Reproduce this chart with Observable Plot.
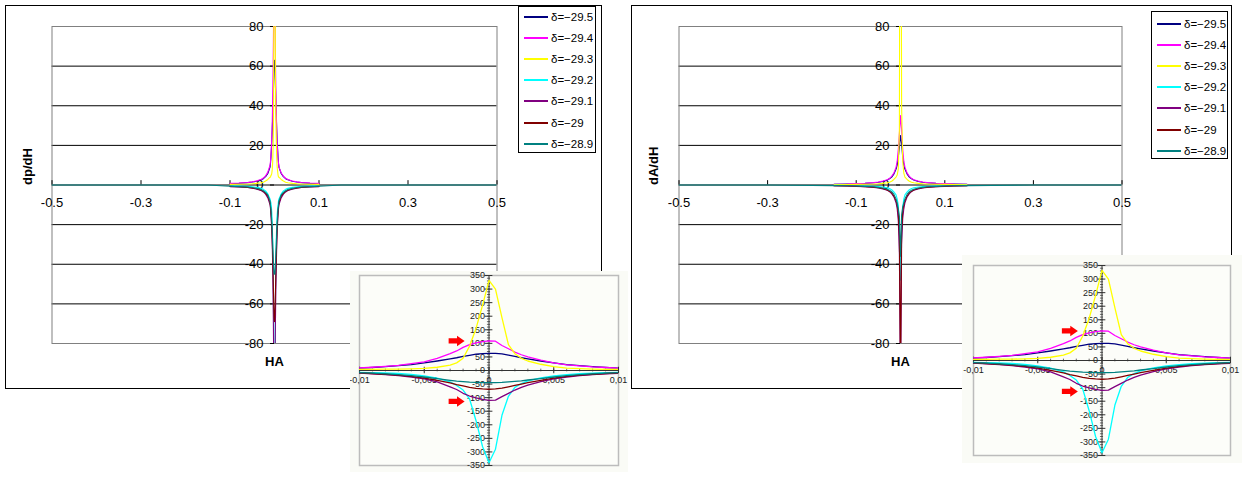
<!DOCTYPE html>
<html><head><meta charset="utf-8">
<script src="https://cdn.jsdelivr.net/npm/d3@7"></script>
<script src="https://cdn.jsdelivr.net/npm/@observablehq/plot@0.6"></script>
<style>
body{margin:0;background:#fff;font-family:"Liberation Sans",Arial,sans-serif;}
#page{position:relative;width:1246px;height:482px;overflow:hidden;background:#fff;}
.abs{position:absolute;}
.frame{position:absolute;border:1px solid #000;box-sizing:border-box;pointer-events:none;}
.legend{position:absolute;border:1px solid #000;background:#fff;box-sizing:border-box;font-size:11.5px;color:#000;}
.legend .row{position:absolute;left:0;height:16px;display:flex;align-items:center;white-space:nowrap;}
.legend .sw{width:24px;height:2px;margin-left:5px;margin-right:3px;flex:none;}
.inset{position:absolute;background:#fafbf6;overflow:hidden;}
</style></head>
<body><div id="page"></div>
<script>
// ---------- data ----------
const seriesNames = ["δ=\u221229.5","δ=\u221229.4","δ=\u221229.3","δ=\u221229.2","δ=\u221229.1","δ=\u221229","δ=\u221228.9"];
const seriesColors = ["#000080","#ff00ff","#ffff00","#00ffff","#800080","#800000","#008080"];

// HA grid for dp/dH (also shown in the insets)
const HA_dp = [-0.5,-0.3,-0.15,-0.1,-0.08,-0.06,-0.05,-0.04,-0.03,-0.025,-0.02,-0.015,
  -0.01,-0.009,-0.008,-0.007,-0.006,-0.005,-0.004,-0.003,-0.0025,-0.002,-0.0015,-0.001,-0.0005,
  0,0.0005,0.001,0.0015,0.002,0.0025,0.003,0.004,0.005,0.006,0.007,0.008,0.009,0.01,
  0.015,0.02,0.025,0.03,0.04,0.05,0.06,0.08,0.1,0.15,0.3,0.5];
const dp_m295 = [null,null,null,0.7,0.9,1.2,1.5,1.9,2.6,3.2,4.2,5.8,
  9,11,14,18,22,28,35,43,47,52,56,60,62,63,63,61,57,52,47,43,35,28,22,18,14,11,9,
  5.8,4.2,3.2,2.6,1.9,1.5,1.2,0.9,0.7,null,null,null];
const dp_m294 = [null,null,null,0.8,1.0,1.3,1.6,2.1,2.8,3.5,4.6,6.5,
  10,12,15,19,25,32,45,62,72,85,95,102,106,109,108,92,80,68,58,50,38,28,21,17,13,11,9,
  6.2,4.4,3.4,2.8,2.0,1.6,1.3,1.0,0.8,null,null,null];
const dp_m293 = [null,null,null,0.3,0.4,0.5,0.6,0.8,1.1,1.4,2.0,2.8,
  4,4,5,5,6,8,12,20,28,45,90,155,240,332,300,195,95,62,45,35,23,14,9,7,5,4,4,
  2.8,2.0,1.4,1.1,0.8,0.6,0.5,0.4,0.3,null,null,null];
const dp_m292 = [null,null,null,-0.4,-0.5,-0.7,-0.9,-1.2,-1.7,-2.2,-3.0,-4.5,
  -7,-8,-9,-11,-14,-20,-28,-42,-55,-72,-105,-185,-280,-340,-290,-165,-95,-62,-48,-38,-27,-20,-15,-12,-10,-8,-7,
  -4.5,-3.0,-2.2,-1.7,-1.2,-0.9,-0.7,-0.5,-0.4,null,null,null];
const dp_m291 = [null,null,null,-0.8,-1.0,-1.3,-1.6,-2.1,-2.8,-3.5,-4.6,-6.5,
  -10,-12,-15,-19,-24,-31,-42,-60,-70,-84,-94,-101,-106,-110,-109,-96,-84,-72,-62,-54,-41,-31,-24,-19,-15,-12,-10,
  -6.5,-4.6,-3.5,-2.8,-2.1,-1.6,-1.3,-1.0,-0.8,null,null,null];
const dp_m290 = [null,null,null,-0.7,-0.9,-1.2,-1.5,-1.9,-2.6,-3.2,-4.2,-5.6,
  -9,-11,-14,-17,-22,-28,-36,-46,-52,-57,-62,-66,-68,-69,-68,-65,-60,-55,-50,-45,-36,-28,-22,-17,-14,-11,-9,
  -5.6,-4.2,-3.2,-2.6,-1.9,-1.5,-1.2,-0.9,-0.7,null,null,null];
const dp_m289 = [0,0,0,-0.6,-0.8,-1.0,-1.3,-1.7,-2.3,-2.9,-3.7,-5.0,
  -8,-10,-12,-15,-19,-24,-30,-36,-39,-41,-43,-44,-45,-45,-45,-44,-42,-40,-38,-35,-30,-24,-19,-15,-12,-10,-8,
  -5.0,-3.7,-2.9,-2.3,-1.7,-1.3,-1.0,-0.8,-0.6,0,0,0];

// HA grid for dA/dH
const HA_dA = [-0.5,-0.3,-0.15,-0.12,-0.1,-0.08,-0.06,-0.05,-0.04,-0.03,-0.025,-0.02,-0.015,-0.01,-0.0075,-0.005,-0.0025,
  0,0.0025,0.005,0.0075,0.01,0.015,0.02,0.025,0.03,0.04,0.05,0.06,0.08,0.1,0.12,0.15,0.3,0.5];
const dA_m295 = [null,null,0.4,0.5,0.6,0.8,1.1,1.4,1.8,2.5,3.1,4.0,5.5,8,10,14,19,25,21,14,10,8,5.5,4.0,3.1,2.5,1.8,1.4,1.1,0.8,0.6,0.5,0.4,null,null];
const dA_m294 = [null,null,0.4,0.5,0.7,0.9,1.2,1.5,2.0,2.7,3.3,4.4,6.0,9,12,18,26,35,28,18,12,9,6.0,4.4,3.3,2.7,2.0,1.5,1.2,0.9,0.7,0.5,0.4,null,null];
const dA_m293 = [null,null,0.2,0.2,0.3,0.4,0.5,0.6,0.8,1.1,1.4,1.9,2.8,4,5,8,28,330,40,12,6,4,2.8,1.9,1.4,1.1,0.8,0.6,0.5,0.4,0.3,0.2,0.2,null,null];
const dA_m292 = [null,null,-0.2,-0.3,-0.4,-0.5,-0.6,-0.8,-1.0,-1.4,-1.8,-2.4,-3.5,-5,-7,-10,-22,-48,-25,-11,-7,-5,-3.5,-2.4,-1.8,-1.4,-1.0,-0.8,-0.6,-0.5,-0.4,-0.3,-0.2,null,null];
const dA_m291 = [null,null,-0.4,-0.5,-0.7,-0.9,-1.2,-1.5,-2.0,-2.7,-3.3,-4.4,-6.0,-9,-12,-18,-35,-110,-30,-17,-12,-9,-6.0,-4.4,-3.3,-2.7,-2.0,-1.5,-1.2,-0.9,-0.7,-0.5,-0.4,null,null];
const dA_m290 = [null,null,-0.4,-0.5,-0.6,-0.8,-1.1,-1.4,-1.8,-2.5,-3.1,-4.0,-5.5,-8,-10,-14,-26,-95,-24,-13,-10,-8,-5.5,-4.0,-3.1,-2.5,-1.8,-1.4,-1.1,-0.8,-0.6,-0.5,-0.4,null,null];
const dA_m289 = [0,0,-0.3,-0.4,-0.5,-0.7,-0.9,-1.2,-1.5,-2.1,-2.6,-3.4,-4.6,-7,-9,-12,-16,-36,-15,-11,-9,-7,-4.6,-3.4,-2.6,-2.1,-1.5,-1.2,-0.9,-0.7,-0.5,-0.4,-0.3,0,0];

// axis ticks
const mainXTicks = [-0.5,-0.3,-0.1,0.1,0.3,0.5];
const mainXLabels = ["-0.5","-0.3","-0.1","0.1","0.3","0.5"];
const mainYTicks = [80,60,40,20,0,-20,-40,-60,-80];
const mainYGrid = [60,40,20,0,-20,-40,-60];
const insetXTicks = [-0.01,-0.005,0,0.005,0.01];
const insetXLabels = ["-0,01","-0,005","0","0,005","0,01"];
const insetYTicks = [350,300,250,200,150,100,50,0,-50,-100,-150,-200,-250,-300,-350];
const arrowPts = [{x:-0.0025, y:109},{x:-0.0025, y:-114}];

// ---------- helpers ----------
function toRows(xs, list){
  const out=[];
  list.forEach((ys,k)=>ys.forEach((y,i)=>{ if(y!=null) out.push({x:xs[i], y, s:seriesNames[k]}); }));
  return out;
}
const rowsDp = toRows(HA_dp,[dp_m295,dp_m294,dp_m293,dp_m292,dp_m291,dp_m290,dp_m289]);
const rowsDA = toRows(HA_dA,[dA_m295,dA_m294,dA_m293,dA_m292,dA_m291,dA_m290,dA_m289]);
const FONT = "'Liberation Sans', Arial, sans-serif";
const page = document.getElementById("page");

function place(el, left, top, cls){
  const w = document.createElement("div");
  w.className = cls || "abs";
  w.style.left = left+"px"; w.style.top = top+"px";
  if (el) w.appendChild(el);
  page.appendChild(w);
  return w;
}

function mainChart(rows, ylab, W, mL, mR, ylabDx){
  return Plot.plot({
    width: W, height: 383, marginLeft: mL, marginRight: mR, marginTop: 21, marginBottom: 45,
    x: {domain: [-0.5,0.5], axis: null},
    y: {domain: [-80,80], axis: null},
    color: {domain: seriesNames, range: seriesColors},
    style: {fontFamily: FONT, background: "none", color: "#000", overflow: "visible"},
    marks: [
      Plot.ruleY(mainYGrid, {y: d=>d, stroke: "#000", strokeWidth: 1}),
      Plot.frame({stroke: "#808080"}),
      Plot.ruleX(mainXTicks, {x: d=>d, y1: 0, y2: 2.2, stroke: "#000"}),
      Plot.ruleY(mainYTicks, {y: d=>d, x1: -0.009, x2: 0, stroke: "#000"}),
      Plot.text(mainYTicks, {x: 0, y: d=>d, dx: -11, textAnchor: "end", text: d=>String(d), fontSize: 13, fill: "#000"}),
      Plot.text(mainXTicks, {x: d=>d, y: 0, dy: 18, text: (d,i)=>mainXLabels[i], fontSize: 13, fill: "#000"}),
      Plot.line(rows, {x: "x", y: "y", z: "s", stroke: "s", strokeWidth: 1.1, clip: true}),
      Plot.text([ylab], {frameAnchor: "left", dx: ylabDx, rotate: -90, text: d=>d, fontWeight: "bold", fontSize: 13, fill: "#000"}),
      Plot.text(["HA"], {frameAnchor: "bottom", dy: 22, text: d=>d, fontWeight: "bold", fontSize: 13, fill: "#000"})
    ]
  });
}

const arrowSymbol = {draw(ctx, size){
  const r = Math.sqrt(size/Math.PI), sh = 0.33*r, hh = 0.66*r, hx = 0.05*r;
  ctx.moveTo(-r,-sh); ctx.lineTo(hx,-sh); ctx.lineTo(hx,-hh); ctx.lineTo(r,0);
  ctx.lineTo(hx,hh); ctx.lineTo(hx,sh); ctx.lineTo(-r,sh); ctx.closePath();
}};

function insetChart(W, H, mL, mR, mT, mB){
  return Plot.plot({
    width: W, height: H, marginLeft: mL, marginRight: mR, marginTop: mT, marginBottom: mB,
    x: {domain: [-0.01,0.01], axis: null},
    y: {domain: [-350,350], axis: null},
    color: {domain: seriesNames, range: seriesColors},
    style: {fontFamily: FONT, background: "#fafbf6", color: "#222", overflow: "hidden"},
    marks: [
      Plot.frame({fill: "#fcfdf9", stroke: "#bcbcbc", strokeWidth: 1.5}),
      Plot.ruleY(d3.range(-350, 351, 10), {y: d=>d, x1: -0.00012, x2: 0.00012, stroke: "#444", strokeWidth: 0.8}),
      Plot.ruleY(insetYTicks, {y: d=>d, x1: -0.0003, x2: 0.0003, stroke: "#333"}),
      Plot.ruleX(d3.range(-0.01, 0.01001, 0.001), {x: d=>d, y1: -5, y2: 5, stroke: "#444", strokeWidth: 0.8}),
      Plot.ruleX(insetXTicks, {x: d=>d, y1: -12, y2: 12, stroke: "#333"}),
      Plot.ruleX([0], {x: d=>d, stroke: "#333"}),
      Plot.ruleY([0], {y: d=>d, stroke: "#333"}),
      Plot.text(insetYTicks, {x: 0, y: d=>d, dx: -4, textAnchor: "end", text: d=>String(d), fontSize: 9, fill: "#222"}),
      Plot.text(insetXTicks, {x: d=>d, y: 0, dy: 10, text: (d,i)=>insetXLabels[i], fontSize: 9, fill: "#222"}),
      Plot.line(rowsDp, {x: "x", y: "y", z: "s", stroke: "s", strokeWidth: 1.3, clip: true}),
      Plot.dot(arrowPts, {x: "x", y: "y", symbol: arrowSymbol, r: 8, fill: "#f00", stroke: "none"})
    ]
  });
}

function legend(left, top, w, h, firstRow){
  const box = document.createElement("div");
  box.className = "legend";
  box.style.left = left+"px"; box.style.top = top+"px";
  box.style.width = w+"px"; box.style.height = h+"px";
  seriesNames.forEach((n,i)=>{
    const row = document.createElement("div");
    row.className = "row";
    row.style.top = (Math.round(firstRow + 21.1*i) - 8)+"px";
    const sw = document.createElement("div");
    sw.className = "sw"; sw.style.background = seriesColors[i];
    const t = document.createElement("span"); t.textContent = n;
    row.appendChild(sw); row.appendChild(t);
    box.appendChild(row);
  });
  page.appendChild(box);
}

// ---------- compose ----------
place(mainChart(rowsDp, "dp/dH", 597, 46.5, 105.5, -24.5), 5, 5);
place(mainChart(rowsDA, "dA/dH", 601, 47.5, 110.5, -25.5), 631, 5);

const f1 = place(null, 5, 5, "frame"); f1.style.width = "597px"; f1.style.height = "384px";
const f2 = place(null, 631, 5, "frame"); f2.style.width = "601px"; f2.style.height = "384px";

legend(518, 6, 78, 147, 10);
legend(1151, 11, 77, 148, 12);

const in1 = place(insetChart(278, 201, 9, 10, 4, 7), 350, 271, "inset");
in1.style.width = "278px"; in1.style.height = "201px";
const in2 = place(insetChart(280, 208, 11, 12, 10, 8), 962, 255, "inset");
in2.style.width = "280px"; in2.style.height = "208px";
</script>
</body></html>
